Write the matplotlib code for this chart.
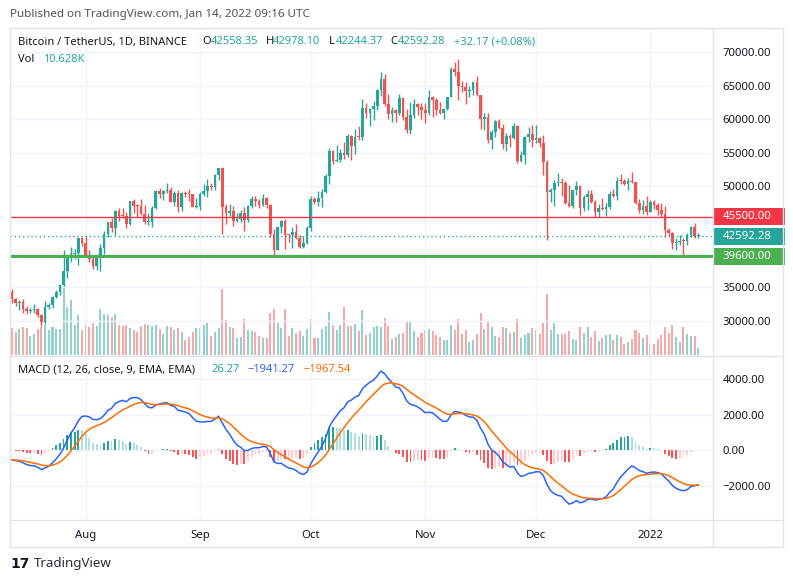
import numpy as np
import pandas as pd
import matplotlib
matplotlib.use("Agg")
import matplotlib.pyplot as plt
import matplotlib.transforms as mtransforms
from matplotlib.patches import Rectangle
from matplotlib.lines import Line2D
from matplotlib.ticker import FuncFormatter

plt.rcParams['font.family'] = ['Noto Sans', 'DejaVu Sans']

# ---- data (BTC/USDT daily, Binance) ----
dates = pd.date_range('2021-07-12', '2022-01-14', freq='D')

opens = [
    # Jul
    34240, 33155, 32702, 32822, 31781, 31421, 31533, 31796, 30817, 29807, 32110, 32313, 33581, 34293, 35350, 37337,
    39406, 39995, 40009, 42236,
    # Aug
    41626, 39846, 39147, 38207, 39724, 40868, 42836, 44614, 43819, 46286, 45596, 45555, 44428, 47833, 47110, 47015,
    45936, 44687, 44710, 46763, 49323, 48867, 49285, 49507, 47707, 48960, 46943, 49058, 48903, 48811, 46991,
    # Sep
    47100, 48810, 49246, 49999, 49915, 51756, 52663, 46863, 46048, 46395, 44843, 45144, 46063, 44963, 47092, 48177,
    47784, 47268, 48278, 47261, 42968, 40582, 43964, 44895, 42809, 42716, 43208, 42235, 41034, 41564,
    # Oct
    43790, 48141, 47634, 48200, 49224, 51471, 55315, 53785, 53951, 54949, 54659, 57471, 56005, 57367, 57347, 61672,
    60875, 61528, 62009, 64280, 66001, 62193, 60688, 61286, 60852, 63078, 60328, 58413, 60575, 62253, 61859,
    # Nov
    61299, 60911, 63219, 62896, 61395, 60937, 61470, 63273, 67525, 66947, 64882, 64774, 64122, 64380, 65519, 63606,
    60058, 60344, 56891, 58052, 59707, 58622, 56247, 57541, 57138, 58960, 53726, 54721, 57274, 57776,
    # Dec
    56950, 57184, 56480, 53601, 49152, 49396, 50441, 50588, 50471, 47545, 47140, 49389, 50053, 46702, 48343, 48864,
    47632, 46131, 46834, 46681, 46914, 48889, 48588, 50838, 50820, 50400, 50775, 50701, 47543, 46464, 47120,
    # Jan
    46216, 47722, 47286, 46446, 45832, 43451, 43082, 41566, 41679, 41864, 41822, 42735, 43949, 42558.35,
]
highs = [
    34680, 33340, 33115, 33185, 32250, 31950, 32435, 31885, 31063, 32858, 32577, 33650, 34500, 35398, 40550, 39542,
    40900, 40640, 42316, 42414,
    42599, 40459, 39780, 39969, 41350, 43392, 44700, 45310, 46454, 46700, 46743, 46218, 47886, 48144, 47372, 48053,
    47160, 46000, 47088, 49382, 49757, 49500, 50500, 49875, 49300, 49380, 49178, 49309, 49659, 48909, 48250,
    49125, 50400, 51052, 50558, 51900, 52780, 52920, 47359, 47400, 47033, 45980, 46460, 46876, 47250, 48486, 48500,
    48150, 48843, 48372, 47330, 43639, 44000, 44978, 45200, 42970, 43950, 44350, 42787, 42590, 44132,
    48495, 48336, 49300, 49530, 51886, 55750, 55332, 56100, 55490, 56561, 57839, 57680, 58532, 58961, 62933, 62350,
    61720, 62695, 64486, 67000, 66639, 63732, 61747, 61500, 63710, 63293, 61496, 62499, 62980, 62359, 62405,
    62437, 64270, 63500, 63086, 62595, 61560, 63286, 67789, 68525, 69000, 65600, 65450, 65000, 65550, 66401, 63617,
    60840, 60976, 58320, 59845, 60029, 59266, 57875, 57735, 59398, 59150, 55280, 57445, 58865, 59176,
    59053, 57375, 57600, 53859, 49699, 50891, 51936, 51200, 50797, 50125, 49485, 50777, 50189, 48700, 49500, 49436,
    47995, 47392, 48300, 47537, 49328, 49576, 51375, 51810, 51156, 51280, 52088, 50704, 48139, 47900, 48548,
    47954, 47990, 47570, 47505, 47070, 43816, 43145, 42300, 42786, 42248, 43100, 44135, 44500, 42978.10,
]
lows = [
    32660, 32200, 31600, 31133, 31020, 31180, 31108, 30480, 29278, 29482, 31708, 31925, 33402, 33851, 35205, 36383,
    38772, 39200, 38313, 41064,
    39422, 38690, 37642, 37508, 37332, 39853, 42450, 43261, 42779, 44800, 45341, 43770, 44218, 45971, 45500, 45660,
    44376, 44203, 43955, 46644, 48273, 48000, 49005, 47600, 47136, 46250, 46361, 48370, 47800, 46853, 46700,
    46512, 48584, 48350, 49400, 49450, 50969, 42843, 44412, 45513, 44132, 44722, 44742, 43370, 44750, 46699, 47020,
    46750, 47050, 46829, 42500, 39600, 40565, 43069, 40675, 41646, 40750, 42098, 40888, 40753, 41410,
    43283, 47430, 47120, 46891, 49022, 50382, 53357, 53617, 53661, 54080, 54415, 53879, 54870, 56818, 56850, 60150,
    58963, 59844, 61322, 63481, 62000, 60000, 59562, 59510, 60650, 59817, 58000, 57821, 60174, 60673, 59945,
    59405, 60624, 60382, 60677, 60721, 60050, 61322, 63273, 66382, 62822, 64100, 62278, 63360, 63576, 63400, 58574,
    58373, 56474, 55600, 57353, 58486, 55610, 55317, 55837, 57000, 53500, 53610, 53256, 56666, 55875,
    56458, 55777, 51680, 42000, 47727, 47100, 50039, 48600, 47320, 46852, 46751, 48638, 45672, 46290, 46547, 47511,
    45456, 45500, 46406, 45558, 46630, 48421, 47920, 50384, 50142, 49412, 50449, 47313, 46096, 45900, 45678,
    46208, 46654, 45697, 45502, 42500, 42430, 40610, 40501, 41200, 39650, 41268, 42528, 42311, 42244.37,
]
closes = [
    33155, 32702, 32822, 31781, 31421, 31533, 31796, 30817, 29807, 32110, 32313, 33581, 34293, 35350, 37337, 39406,
    39995, 40009, 42236, 41626,
    39846, 39147, 38207, 39724, 40868, 42836, 44614, 43819, 46286, 45596, 45555, 44428, 47833, 47110, 47015, 45936,
    44687, 44710, 46763, 49323, 48867, 49285, 49507, 47707, 48960, 46943, 49058, 48903, 48811, 46991, 47100,
    48810, 49246, 49999, 49915, 51756, 52663, 46863, 46048, 46395, 44843, 45144, 46063, 44963, 47092, 48177, 47784,
    47268, 48278, 47261, 42968, 40582, 43964, 44895, 42809, 42716, 43208, 42235, 41034, 41564, 43790,
    48141, 47634, 48200, 49224, 51471, 55315, 53785, 53951, 54949, 54659, 57471, 56005, 57367, 57347, 61672, 60875,
    61528, 62009, 64280, 66001, 62193, 60688, 61286, 60852, 63078, 60328, 58413, 60575, 62253, 61859, 61299,
    60911, 63219, 62896, 61395, 60937, 61470, 63273, 67525, 66947, 64882, 64774, 64122, 64380, 65519, 63606, 60058,
    60344, 56891, 58052, 59707, 58622, 56247, 57541, 57138, 58960, 53726, 54721, 57274, 57776, 56950,
    57184, 56480, 53601, 49152, 49396, 50441, 50588, 50471, 47545, 47140, 49389, 50053, 46702, 48343, 48864, 47632,
    46131, 46834, 46681, 46914, 48889, 48588, 50838, 50820, 50400, 50775, 50701, 47543, 46464, 47120, 46216,
    47722, 47286, 46446, 45832, 43451, 43082, 41566, 41679, 41864, 41822, 42735, 43949, 42560.11, 42592.28,
]
# volume in thousands of BTC
volumes = [
    42, 36, 41, 44, 42, 30, 32, 40, 43, 47, 39, 43, 40, 40, 107, 75, 85, 47, 62, 39,
    47, 44, 49, 45, 71, 64, 62, 59, 64, 47, 45, 47, 42, 39, 36, 45, 48, 47, 45, 47, 40, 33, 45, 43, 39, 42,
    36, 24, 28, 35, 42,
    42, 47, 50, 30, 35, 42, 103, 54, 43, 42, 27, 28, 56, 39, 37, 36, 29, 26, 26, 65, 71, 50, 42, 71, 30, 42,
    34, 37, 29, 40,
    56, 26, 26, 40, 45, 67, 47, 39, 47, 74, 45, 45, 48, 37, 70, 31, 34, 43, 45, 43, 57, 45, 25, 28, 33, 34,
    53, 51, 37, 28, 34,
    39, 40, 37, 31, 28, 23, 23, 47, 39, 56, 33, 39, 20, 23, 33, 65, 40, 53, 43, 29, 28, 43, 42, 34, 36, 56,
    26, 31, 34, 42,
    39, 33, 50, 95, 39, 50, 33, 33, 33, 37, 25, 23, 43, 34, 43, 28, 37, 22, 26, 31, 33, 23, 31, 28, 17, 20,
    25, 39, 34, 26, 31,
    17, 17, 25, 31, 43, 34, 47, 28, 20, 43, 33, 29, 29, 10.628,
]
# closes before the visible window (Jun 1 - Jul 11) so the MACD is warmed up
warmup_closes = [
    36690, 37568, 39247, 36840, 35521, 35797, 33552, 33381, 37388, 36675, 37331, 35546, 39020, 40516, 40144,
    38349, 38092, 35820, 35483, 35600, 31676, 32505, 33676, 34664, 31594, 32271, 34700, 34494, 35911, 35045,
    33504, 33786, 34669, 35287, 33690, 34220, 33862, 32875, 33815, 33502, 34259,
]

resistance = 45500.0
support = 39600.0
price_ticks = [30000, 35000, 40000, 45000, 50000, 55000, 60000, 65000, 70000]
hidden_ticks = [40000, 45000]   # covered by the price tags
macd_ticks = [-2000, 0, 2000, 4000]

UP = '#26a69a'
DOWN = '#ef5350'
UP_VOL = '#92d2cc'
DOWN_VOL = '#f7a9a7'
TXT = '#131722'
GRID = '#f0f3fa'
BORDER = '#e0e3eb'

# ---- indicator ----
all_close = pd.Series(warmup_closes + closes, dtype=float)
ema_fast = all_close.ewm(span=12, adjust=False).mean()
ema_slow = all_close.ewm(span=26, adjust=False).mean()
macd_full = ema_fast - ema_slow
signal_full = macd_full.ewm(span=9, adjust=False).mean()
hist_full = (macd_full - signal_full).values
nw = len(warmup_closes)
macd = macd_full.values[nw:]
signal = signal_full.values[nw:]
hist = hist_full[nw:]
hist_colors = []
for i in range(nw, len(hist_full)):
    hv, prev = hist_full[i], hist_full[i - 1]
    if hv >= 0:
        hist_colors.append('#26a69a' if hv > prev else '#b2dfdb')
    else:
        hist_colors.append('#ffcdd2' if hv > prev else '#ff5252')

# ---- figure ----
W, H = 793, 582
fig = plt.figure(figsize=(W / 100, H / 100), dpi=100)
fig.patch.set_facecolor('white')


def px_axes(x0, y0, x1, y1):
    return fig.add_axes([x0 / W, 1 - y1 / H, (x1 - x0) / W, (y1 - y0) / H])


def ftext(x, y, s, **kw):
    kw.setdefault('va', 'center')
    return fig.text(x / W, 1 - y / H, s, **kw)


o = np.array(opens, dtype=float)
h = np.array(highs, dtype=float)
l = np.array(lows, dtype=float)
c = np.array(closes, dtype=float)
v = np.array(volumes, dtype=float)
x = np.arange(len(dates))
up = c >= o
month_idx = [i for i, d in enumerate(dates) if d.day == 1]
month_lbl = [d.strftime('%b') if d.month != 1 else str(d.year) for d in dates[month_idx]]
xlim = (-0.52, 190.0)

MAIN = (10, 28, 713, 355)
ax_vol = px_axes(*MAIN)
ax = px_axes(*MAIN)
ax.patch.set_alpha(0)
ylim = (24896, 73557)

# volume overlay
ax_vol.bar(x, v, width=0.55, color=np.where(up, UP_VOL, DOWN_VOL), linewidth=0)
ax_vol.set_xlim(*xlim)
ax_vol.set_ylim(0, (MAIN[3] - MAIN[1]) * 1.55)
ax_vol.axis('off')

# candles
cols = np.where(up, UP, DOWN)
ppx = (ylim[1] - ylim[0]) / (MAIN[3] - MAIN[1])
ax.vlines(x, l, h, colors=cols, linewidth=1, zorder=3)
body = np.maximum(np.abs(c - o), ppx)
ax.bar(x, body, bottom=np.minimum(o, c), width=0.72, color=cols, linewidth=0, zorder=4)

# levels
ax.axhline(resistance, color='#f23645', lw=1, zorder=5)
ax.axhline(support, color='#4caf50', lw=2.2, zorder=5)
ax.axhline(c[-1], color=UP, lw=1, ls=(0, (1, 2)), zorder=5)

ax.set_xlim(*xlim)
ax.set_ylim(*ylim)
ax.set_xticks(month_idx)
ax.set_yticks(price_ticks)
ax.yaxis.tick_right()
ax.yaxis.set_major_formatter(FuncFormatter(lambda val, p: '' if val in hidden_ticks else f'{val:.2f}'))
ax.tick_params(axis='y', length=0, pad=7, labelsize=8.2, labelcolor=TXT)
ax.tick_params(axis='x', length=0, labelbottom=False)
ax.grid(True, color=GRID, lw=1, zorder=0)
for s in ax.spines.values():
    s.set_visible(False)

blend = mtransforms.blended_transform_factory(ax.transAxes, ax.transData)
axw = MAIN[2] - MAIN[0]
for val, col in [(resistance, '#f23645'), (c[-1], UP), (support, '#4caf50')]:
    ax.add_patch(Rectangle((1.0, val - 8.5 * ppx), 72 / axw, 17 * ppx, transform=blend,
                           facecolor=col, edgecolor='none', clip_on=False, zorder=8))
    ax.text(1.0 + 9.7 / axw, val, f'{val:.2f}', transform=blend, ha='left', va='center',
            color='white', fontsize=8.2, clip_on=False, zorder=9)

# ---- MACD pane ----
MP = (10, 356, 713, 519)
ax2 = px_axes(*MP)
ax2.bar(x, hist, width=0.5, color=hist_colors, linewidth=0, zorder=2)
ax2.plot(x, macd, color='#2962ff', lw=1.1, zorder=3)
ax2.plot(x, signal, color='#ff6d00', lw=1.1, zorder=3)
ax2.set_xlim(*xlim)
ax2.set_ylim(-3870, 5303)
ax2.set_yticks(macd_ticks)
ax2.yaxis.tick_right()
ax2.yaxis.set_major_formatter(FuncFormatter(lambda val, p: f'{val:.2f}'.replace('-', '\u2212')))
ax2.tick_params(axis='y', length=0, pad=7, labelsize=8.2, labelcolor=TXT)
ax2.set_xticks(month_idx)
ax2.set_xticklabels(month_lbl)
ax2.tick_params(axis='x', length=0, pad=8, labelsize=8.2, labelcolor=TXT)
ax2.grid(True, color=GRID, lw=1, zorder=0)
for s in ax2.spines.values():
    s.set_visible(False)


# ---- frame lines ----
def fline(xs, ys):
    fig.add_artist(Line2D([xx / W for xx in xs], [1 - yy / H for yy in ys], color=BORDER, lw=1,
                          transform=fig.transFigure))


fline([9.5, 782.5, 782.5, 9.5, 9.5], [27.5, 27.5, 546.5, 546.5, 27.5])
fline([713, 713], [27.5, 546.5])
fline([9.5, 782.5], [356, 356])
fline([9.5, 782.5], [519.5, 519.5])

# ---- texts ----
LEG = 8.0
ftext(10, 15, 'Published on TradingView.com, Jan 14, 2022 09:16 UTC', color='#50535e', fontsize=8.4)
ftext(18, 42, 'Bitcoin / TetherUS, 1D, BINANCE', color=TXT, fontsize=LEG)
for lx, nx, key, val in [(202.5, 211, 'O', o[-1]), (265.5, 273, 'H', h[-1]),
                         (329, 336, 'L', l[-1]), (390, 398, 'C', c[-1])]:
    ftext(lx, 42, key, color=TXT, fontsize=LEG)
    ftext(nx, 42, f'{val:.2f}', color=UP, fontsize=LEG)
ftext(454, 42, '+32.17 (+0.08%)', color=UP, fontsize=LEG)
ftext(18, 60, 'Vol', color=TXT, fontsize=LEG)
ftext(43, 60, f'{v[-1]:.3f}K', color=UP, fontsize=LEG)

ftext(18, 370, 'MACD (12, 26, close, 9, EMA, EMA)', color=TXT, fontsize=LEG)
ftext(211, 370, '26.27', color=UP, fontsize=LEG)
ftext(247, 370, '\u22121941.27', color='#2962ff', fontsize=LEG)
ftext(303, 370, '\u22121967.54', color='#ff6d00', fontsize=LEG)

ftext(10, 564, '17', color=TXT, fontsize=10, fontweight='bold', family='DejaVu Sans')
ftext(34, 564, 'TradingView', color='#2a2e39', fontsize=9.6)

fig.savefig('out.png', dpi=100, facecolor='white')
